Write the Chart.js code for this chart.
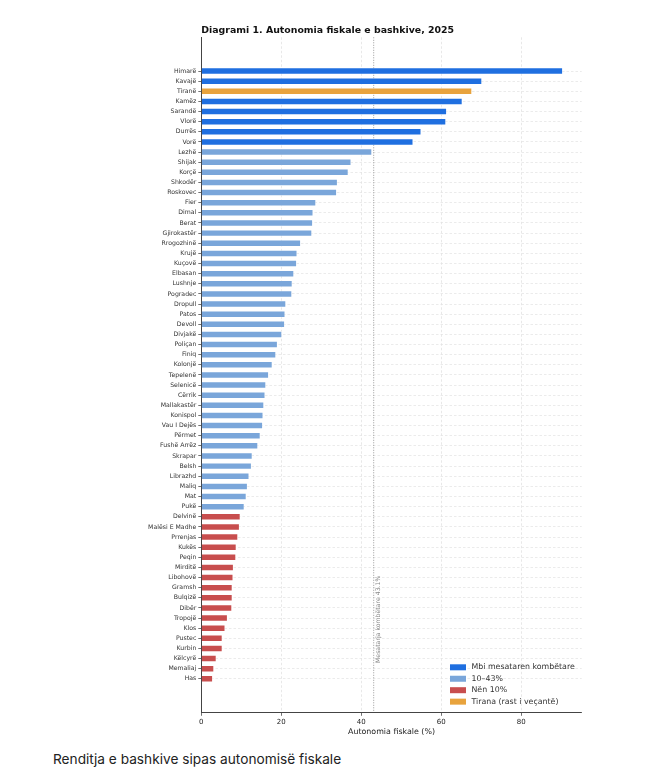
<!DOCTYPE html>
<html lang="sq">
<head>
<meta charset="utf-8">
<title>Autonomia fiskale e bashkive, 2025</title>
<script src="https://cdn.jsdelivr.net/npm/chart.js@4.4.1/dist/chart.umd.min.js"></script>
<style>
    body { margin: 0; background: #fff; }
    #wrap { position: relative; width: 668px; height: 772px; }
    #chart { position: absolute; left: 0; top: 0; }
    #caption {
        position: absolute; left: 53px; top: 751px;
        font-family: Inter, "Noto Sans", sans-serif; font-size: 13.7px; color: #222;
        white-space: nowrap;
    }
</style>
</head>
<body>
<div id="wrap">
    <canvas id="chart" width="668" height="745"></canvas>
    <div id="caption">Renditja e bashkive sipas autonomisë fiskale</div>
</div>
<script>
const municipalities = ['Himarë', 'Kavajë', 'Tiranë', 'Kamëz', 'Sarandë', 'Vlorë', 'Durrës', 'Vorë',
    'Lezhë', 'Shijak', 'Korçë', 'Shkodër', 'Roskovec', 'Fier', 'Dimal', 'Berat', 'Gjirokastër',
    'Rrogozhinë', 'Krujë', 'Kuçovë', 'Elbasan', 'Lushnje', 'Pogradec', 'Dropull', 'Patos', 'Devoll',
    'Divjakë', 'Poliçan', 'Finiq', 'Kolonjë', 'Tepelenë', 'Selenicë', 'Cërrik', 'Mallakastër',
    'Konispol', 'Vau I Dejës', 'Përmet', 'Fushë Arrëz', 'Skrapar', 'Belsh', 'Librazhd', 'Maliq',
    'Mat', 'Pukë', 'Delvinë', 'Malësi E Madhe', 'Prrenjas', 'Kukës', 'Peqin', 'Mirditë', 'Libohovë',
    'Gramsh', 'Bulqizë', 'Dibër', 'Tropojë', 'Klos', 'Pustec', 'Kurbin', 'Këlcyrë', 'Memaliaj', 'Has'];

const autonomy = [90.4, 70.2, 67.7, 65.3, 61.4, 61.2, 55.0, 53.0,
    42.7, 37.5, 36.8, 34.1, 33.9, 28.7, 28.0, 27.9, 27.7,
    24.9, 24.0, 23.9, 23.2, 22.8, 22.7, 21.2, 21.0, 20.9,
    20.2, 19.1, 18.7, 17.8, 16.9, 16.2, 16.0, 15.7,
    15.5, 15.4, 14.8, 14.2, 12.8, 12.6, 12.0, 11.6,
    11.3, 10.8, 9.8, 9.6, 9.2, 8.8, 8.7, 8.1, 8.0,
    7.8, 7.8, 7.7, 6.6, 6.0, 5.3, 5.3, 3.8, 3.2, 2.9];

// group of each municipality: 'above' national mean, 'mid' 10-43%, 'low' below 10%, 'tirana'
const groups = ['above', 'above', 'tirana', 'above', 'above', 'above', 'above', 'above',
    ...Array(36).fill('mid'), ...Array(17).fill('low')];

const groupKeys = ['above', 'mid', 'low', 'tirana'];
const groupLabels = ['Mbi mesataren kombëtare', '10–43%', 'Nën 10%', 'Tirana (rast i veçantë)'];
const groupColors = ['#1f6fe0', '#7aa6da', '#c84e4e', '#e8a33d'];

const nationalMean = 43.1;
const xTicks = [0, 20, 40, 60, 80];

const FONT = '"DejaVu Sans", sans-serif';

// --- Plugins: title, mean line, legend ---
const extras = {
    id: 'extras',
    beforeDatasetsDraw(chart) {
        const { ctx, chartArea } = chart;
        const x = chart.scales.x.getPixelForValue(nationalMean);
        ctx.save();
        ctx.strokeStyle = '#999';
        ctx.lineWidth = 1;
        ctx.setLineDash([1, 1.5]);
        ctx.beginPath();
        ctx.moveTo(x, chartArea.top);
        ctx.lineTo(x, chartArea.bottom);
        ctx.stroke();
        ctx.restore();
    },
    afterDraw(chart) {
        const { ctx, chartArea } = chart;
        ctx.save();
        // title
        ctx.fillStyle = '#111';
        ctx.font = `bold 9.4px ${FONT}`;
        ctx.textBaseline = 'alphabetic';
        ctx.textAlign = 'left';
        ctx.fillText('Diagrami 1. Autonomia fiskale e bashkive, 2025', chartArea.left, 32.7);

        // mean label, rotated
        const mx = chart.scales.x.getPixelForValue(nationalMean);
        ctx.translate(mx + 4.5, 663);
        ctx.rotate(-Math.PI / 2);
        ctx.fillStyle = '#8a8a8a';
        ctx.font = `6.2px ${FONT}`;
        ctx.textBaseline = 'middle';
        ctx.fillText(`Mesatarja kombëtare ${nationalMean}%`, 0, 0);
        ctx.restore();

        // legend
        ctx.save();
        const lx = chartArea.right - 131.7;
        let ly = chartArea.bottom - 45;
        ctx.font = `7.85px ${FONT}`;
        ctx.textBaseline = 'middle';
        groupLabels.forEach((label, i) => {
            ctx.fillStyle = groupColors[i];
            ctx.fillRect(lx, ly - 3, 16, 6);
            ctx.fillStyle = '#333';
            ctx.fillText(label, lx + 21.5, ly);
            ly += 11.45;
        });
        ctx.restore();
    }
};

// --- Chart ---
const barColors = groups.map(g => groupColors[groupKeys.indexOf(g)]);

new Chart(document.getElementById('chart'), {
    type: 'bar',
    data: {
        datasets: [{
            data: autonomy.map((v, i) => ({ x: v, y: i })),
            backgroundColor: barColors,
            borderColor: 'rgba(255,255,255,0.55)',
            borderWidth: 0.8,
            barPercentage: 0.7,
            categoryPercentage: 1
        }]
    },
    options: {
        indexAxis: 'y',
        responsive: false,
        animation: false,
        layout: { padding: { top: 37.3, right: 86.3, left: 0, bottom: 0 } },
        plugins: { legend: { display: false }, tooltip: { enabled: false } },
        scales: {
            x: {
                type: 'linear',
                min: 0,
                max: 95.1,
                afterBuildTicks: scale => { scale.ticks = xTicks.map(v => ({ value: v })); },
                afterFit: scale => { scale.height = 32.7; },
                grid: { color: '#dedede', lineWidth: 0.7, tickColor: '#333', tickLength: 3.5, tickBorderDash: [] },
                border: { display: true, color: '#444', width: 1, dash: [2.5, 2] },
                ticks: { color: '#222', font: { family: FONT, size: 7 }, padding: 2, maxRotation: 0 },
                title: {
                    display: true, text: 'Autonomia fiskale (%)', color: '#222',
                    font: { family: FONT, size: 7.9 }, padding: { top: 1, bottom: 8.5 }
                }
            },
            y: {
                type: 'linear',
                reverse: true,
                offset: false,
                min: -3.33,
                max: 63.3,
                afterBuildTicks: scale => { scale.ticks = municipalities.map((_, i) => ({ value: i })); },
                afterFit: scale => { scale.width = 201.3; },
                grid: {
                    offset: false, color: '#e2e2e2', lineWidth: 0.7,
                    tickColor: '#333', tickLength: 3, tickBorderDash: []
                },
                border: { display: true, color: '#444', width: 1, dash: [2.5, 2] },
                ticks: {
                    autoSkip: false,
                    color: '#333',
                    font: { family: FONT, size: 6.2 },
                    padding: 2,
                    callback: v => municipalities[v] ?? ''
                }
            }
        }
    },
    plugins: [extras]
});
</script>
</body>
</html>
